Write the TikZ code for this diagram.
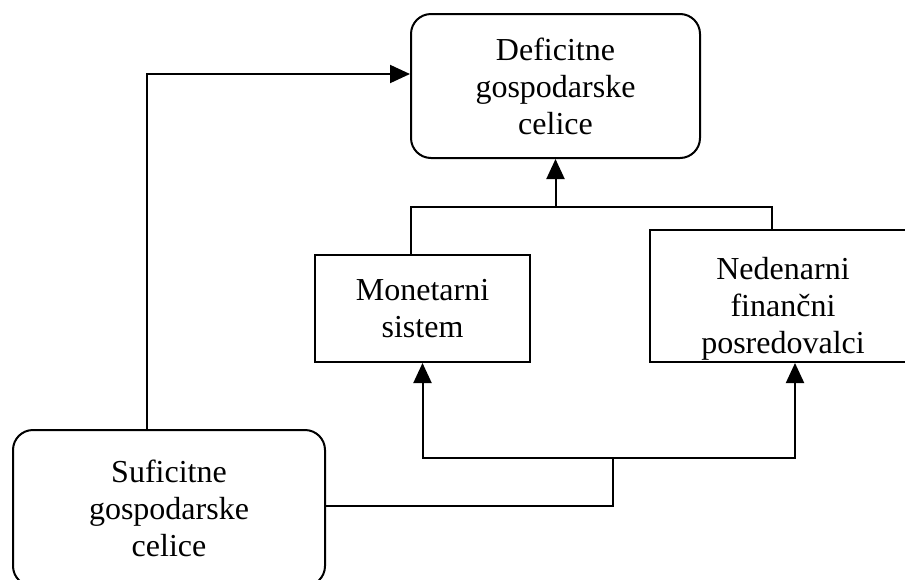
\documentclass[tikz,border=0pt]{standalone}
\usepackage{fontspec}
\setmainfont{Liberation Serif}
\usetikzlibrary{arrows.meta,positioning}
\tikzset{%
      celica/.style={draw, line width=1.5pt, rounded corners=15pt, align=center, inner sep=0pt},
      ustanova/.style={celica, sharp corners},
      spoj/.style={draw, line width=1.5pt},
      line/.style={spoj, -{Triangle[length=15pt,width=13.5pt]}},
    }
\newcommand{\enota}[3]{node (#1) [#2] {#3}}

\begin{document}
\begin{tikzpicture}[x=0.75pt, y=-0.75pt, font=\fontsize{24}{27.75}\selectfont]
      \useasboundingbox (0,0) rectangle (905,579);
      \clip (0,0) rectangle (905,579);

      % Draw diagram elements
      \path (555.5,86) \enota{def}{celica, minimum width=216.75pt, minimum height=108pt}{Deficitne\\gospodarske\\celice};
      \path (422.5,308.5) \enota{mon}{ustanova, minimum width=161.25pt, minimum height=80.25pt}{Monetarni\\sistem};
      \path (783,296) \enota{ned}{ustanova, minimum width=199.5pt, minimum height=99pt, text height=90.7pt, text depth=5.2pt}{Nedenarni\\finančni\\posredovalci};
      \path (169,508) \enota{suf}{celica, minimum width=234pt, minimum height=117pt}{Suficitne\\gospodarske\\celice};

      % Junctions of the connectors
      \coordinate (topjoin) at (555.5,207);
      \coordinate (botjoin) at (613,458);

      % Draw arrows between elements
      \path [line] ([xshift=-16.5pt]suf.north) |- ([yshift=9pt]def.west);
      \path [spoj] ([xshift=-8.6pt]mon.north) |- (topjoin) -| ([xshift=-8.25pt]ned.north);
      \path [line] (topjoin) -- (def.south);
      \path [spoj] ([yshift=1.5pt]suf.east) -| (botjoin);
      \path [line] (botjoin) -| (mon.south);
      \path [line] (botjoin) -| ([xshift=9pt]ned.south);

    \end{tikzpicture}
\end{document}
